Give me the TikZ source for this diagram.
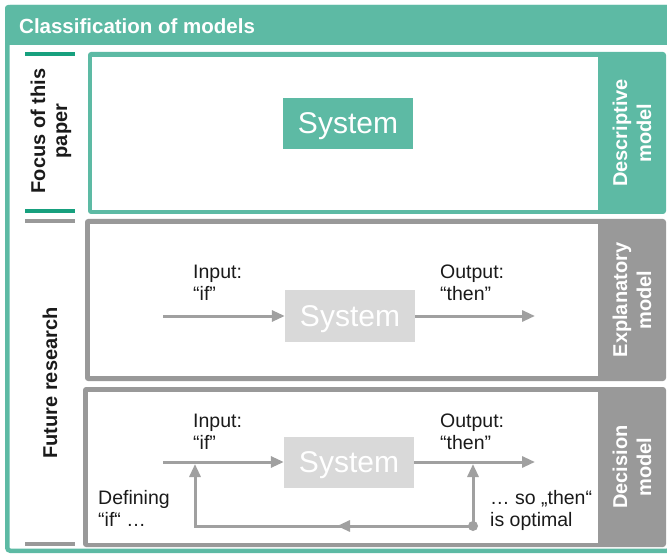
\documentclass[tikz,border=0pt]{standalone}
\usepackage{fontspec}
\setmainfont{Liberation Sans}
\usetikzlibrary{arrows.meta}
\definecolor{mgreen}{HTML}{5DBAA4}
\definecolor{dgreen}{HTML}{17A07E}
\definecolor{mgray}{HTML}{999999}
\definecolor{agray}{HTML}{A0A0A0}
\definecolor{lgray}{HTML}{D9D9D9}
\definecolor{txt}{HTML}{1A1A1A}
\begin{document}
\begin{tikzpicture}[x=1pt,y=-1pt,
 sysbox/.style={minimum width=130pt, minimum height=51pt, inner sep=0pt, text depth=0pt, text=white, font=\fontsize{30}{32}\selectfont},
 arr/.style={draw=agray, line width=3pt, -{Triangle[length=13pt,width=11pt]}},
 lbl/.style={font=\fontsize{19.5}{22}\selectfont, text=txt, align=left, anchor=north west, inner sep=0pt},
 side/.style={rotate=90, align=center, text=white, font=\bfseries\fontsize{20}{24}\selectfont},
 lefttxt/.style={rotate=90, align=center, text=txt, font=\bfseries\fontsize{20}{22}\selectfont},
 marker/.style={line width=3.5pt}]
\useasboundingbox (0,0) rectangle (667,556);
\clip (0,0) rectangle (667,556);
% outer frame and title band
\draw[mgreen, line width=4.5pt, rounded corners=3pt] (7.25,7.25) rectangle (670,550.75);
\fill[mgreen, rounded corners=3pt] (5,5) rectangle (672,45);
\node[anchor=west, text=white, font=\bfseries\fontsize{20.5}{24}\selectfont, inner sep=0pt] (title) at (19,26) {Classification of models};
% model boxes
\fill[mgreen, rounded corners=3pt] (88,52) rectangle (666,214);
\fill[white] (92,57) rectangle (598,210);
\fill[mgray, rounded corners=3pt] (85,219) rectangle (666,381);
\fill[white] (90,224) rectangle (598,376);
\fill[mgray, rounded corners=3pt] (83,387) rectangle (666,547);
\fill[white] (88,392) rectangle (598,543);
% side labels
\node[side] (desc) at (632,133) {Descriptive\\model};
\node[side] (expl) at (632,300) {Explanatory\\model};
\node[side] (deci) at (632,467) {Decision\\model};
% left markers and texts
\draw[dgreen, marker] (25,54) -- (75,54);
\draw[dgreen, marker] (25,211) -- (75,211);
\draw[mgray, marker] (25,221) -- (75,221);
\draw[mgray, marker] (25,544) -- (75,544);
\node[lefttxt] (focus) at (51,131) {Focus of this\\paper};
\node[lefttxt] (future) at (50,383) {Future research};
% systems
\node[sysbox, fill=mgreen] (sys1) at (348,123.5) {System};
\node[sysbox, fill=lgray] (sys2) at (350,316) {System};
\node[sysbox, fill=lgray] (sys3) at (349,462) {System};
% explanatory arrows
\coordinate (in2) at (163,316);
\coordinate (out2) at (535,316);
\draw[arr] (in2) -- (sys2);
\draw[arr] (sys2) -- (out2);
\node[lbl] (in2t) at (193,265) {Input:\\“if”};
\node[lbl] (out2t) at (440,265) {Output:\\“then”};
% decision arrows
\coordinate (in3) at (163,462);
\coordinate (out3) at (535,462);
\draw[arr] (in3) -- (sys3);
\draw[arr] (sys3) -- (out3);
\coordinate (dot) at (473,526);
\coordinate (fbL) at (195,526);
\coordinate (fbLtop) at (195,464);
\coordinate (dotTop) at (473,464);
\coordinate (mid) at (337,526);
\draw[arr] (dot) -- (fbL) -- (fbLtop);
\draw[arr] (dot) -- (mid);
\draw[arr] (dot) -- (dotTop);
\fill[agray] (dot) circle (5pt);
\node[lbl] (in3t) at (193,414) {Input:\\“if”};
\node[lbl] (out3t) at (440,414) {Output:\\“then”};
\node[lbl] (deft) at (98,490) {Defining\\“if“ …};
\node[lbl] (optt) at (490,490) {… so „then“\\is optimal};
\end{tikzpicture}
\end{document}
